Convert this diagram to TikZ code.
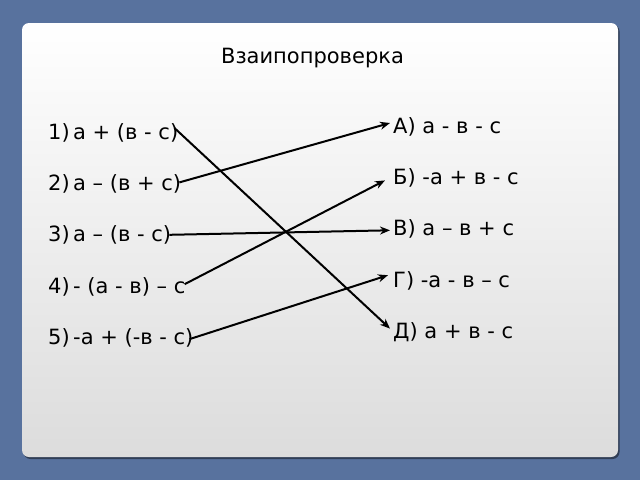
\documentclass[tikz,border=0pt]{standalone}
\usepackage{fontspec}
\setmainfont{DejaVu Sans}
\usepackage{xcolor}
\usepackage{tikz}
\usetikzlibrary{positioning, arrows.meta}

\definecolor{bgblue}{RGB}{88,114,158}
\definecolor{panelgray}{RGB}{220,220,220}

\begin{document}
\begin{tikzpicture}[x=1pt, y=-1pt,
    title/.style={inner sep=0pt, anchor=base, font=\fontsize{21}{24}\selectfont},
    item/.style={inner sep=0pt, text height=15pt, text depth=4pt, font=\fontsize{21}{24}\selectfont},
    link/.style={-{Stealth[length=10pt, width=8pt]}, line width=2pt}
]

% background and panel
\useasboundingbox (0,0) rectangle (640,480);
\fill[bgblue] (0,0) rectangle (640,480);
\fill[black, opacity=0.45, rounded corners=7pt] (23.5,24.5) rectangle (619.5,459);
\shade[top color=white, bottom color=panelgray, rounded corners=7pt] (22,23) rectangle (618,457);

\node[title] (head) at (312.5,63) {Взаипопроверка};

% left column
\node[item, anchor=base west] (l1) at (48,139) {\makebox[25pt][l]{1)}а + (в - с)};
\node[item, below=32pt of l1.south west, anchor=north west] (l2) {\makebox[25pt][l]{2)}а – (в + с)};
\node[item, below=32pt of l2.south west, anchor=north west] (l3) {\makebox[25pt][l]{3)}а – (в - с)};
\node[item, below=32pt of l3.south west, anchor=north west] (l4) {\makebox[25pt][l]{4)}- (а - в) – с};
\node[item, below=32pt of l4.south west, anchor=north west] (l5) {\makebox[25pt][l]{5)}-а + (-в - с)};

% right column
\node[item, anchor=base west] (r1) at (393,133) {А) а - в - с};
\node[item, below=32pt of r1.south west, anchor=north west] (r2) {Б) -а + в - с};
\node[item, below=32pt of r2.south west, anchor=north west] (r3) {В) а – в + с};
\node[item, below=32pt of r3.south west, anchor=north west] (r4) {Г) -а - в – с};
\node[item, below=32pt of r4.south west, anchor=north west] (r5) {Д) а + в - с};

\foreach \src/\sx/\sy/\dst/\dx/\dy in {
    l1/-4/5.5/r5/-3/4.5,
    l2/-2/2.5/r1/-3/4.5,
    l3/-2/1.5/r3/-3/0,
    l4/-1/3.5/r2/-8/-1.5,
    l5/-4/0/r4/-5/6.5}
    \draw[link] ([xshift=\sx pt, yshift=\sy pt]\src.east) -- ([xshift=\dx pt, yshift=\dy pt]\dst.west);

\end{tikzpicture}
\end{document}
